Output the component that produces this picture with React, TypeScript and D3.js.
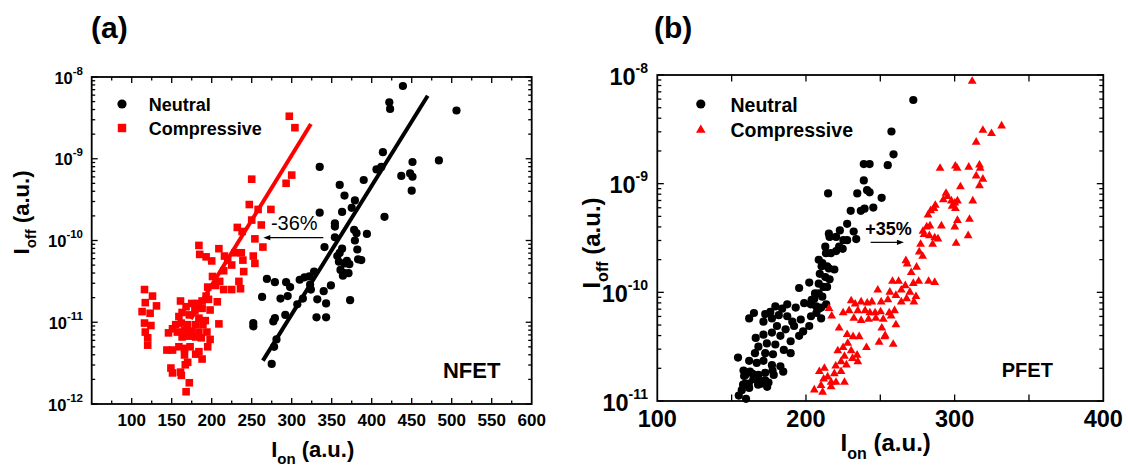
import React from 'react';
import * as d3 from 'd3';

const FONT = "'Liberation Sans', Arial, Helvetica, sans-serif";

// ---------- Panel (a) NFET : [Ion (a.u.), log10 Ioff (a.u.)] ----------
const nfetIonDomain = [50, 600];
const nfetIoffDomain = [1e-12, 1e-8];
const nfetIonTicks = [100, 150, 200, 250, 300, 350, 400, 450, 500, 550, 600];
const nfetIoffTickExps = [-12, -11, -10, -9, -8];

const nfetNeutral: [number, number][] = [
  [439, -8.11], [422, -8.31], [423, -8.39], [506, -8.41], [484, -9.02], [414, -8.92], [335, -9.10],
  [406, -9.13], [412, -9.10], [437, -9.21], [448, -9.18], [451, -9.22], [451, -9.04], [450, -9.39],
  [390, -9.26], [360, -9.32], [366, -9.45], [379, -9.51], [375, -9.60], [363, -9.65], [335, -9.66],
  [416, -9.71], [354, -9.79], [354, -9.83], [378, -9.87], [381, -9.91], [379, -10.0], [394, -9.92],
  [354, -9.96], [341, -10.08], [363, -10.10], [360, -10.15], [357, -10.19], [359, -10.26], [366, -10.28],
  [369, -10.25], [372, -10.29], [361, -10.36], [366, -10.40], [364, -10.43], [371, -10.40], [382, -10.11],
  [383, -10.23], [387, -10.24], [328, -10.38], [322, -10.44], [316, -10.45], [310, -10.48], [298, -10.57],
  [293, -10.51], [279, -10.51], [269, -10.47], [263, -10.69], [286, -10.71], [295, -10.68], [314, -10.71],
  [324, -10.60], [323, -10.54], [307, -10.78], [340, -10.62], [349, -10.55], [332, -10.72], [343, -10.77],
  [373, -10.73], [292, -10.91], [279, -10.95], [277, -10.99], [331, -10.94], [343, -10.94], [252, -11.01],
  [252, -11.05], [278, -11.30], [281, -11.21], [275, -11.51],
];

const nfetCompressive: [number, number][] = [
  [297, -8.48], [304, -8.62], [250, -9.25], [300, -9.20], [293, -9.30],
  [247, -9.56], [258, -9.62], [274, -9.62], [262, -9.81], [254, -9.98], [264, -10.08], [232, -9.84],
  [238, -9.89], [250, -9.75], [184, -10.06], [185, -10.17], [193, -10.20], [200, -10.25], [209, -10.10],
  [216, -10.19], [220, -10.24], [225, -10.30], [229, -10.15], [237, -10.15], [239, -10.24], [252, -10.19],
  [254, -10.28], [240, -10.38], [215, -10.37], [210, -10.50], [201, -10.44], [205, -10.55], [215, -10.60],
  [225, -10.60], [234, -10.50], [236, -10.59], [195, -10.57], [193, -10.68], [188, -10.74], [196, -10.72],
  [207, -10.75], [183, -10.77], [175, -10.77], [161, -10.74], [168, -10.81], [179, -10.86], [188, -10.83],
  [198, -10.85], [209, -11.02], [163, -10.88], [159, -10.93], [172, -10.91], [184, -10.95], [192, -10.98],
  [155, -11.03], [162, -11.01], [170, -11.03], [180, -11.03], [189, -11.03], [151, -11.08], [166, -11.10],
  [175, -11.11], [184, -11.12], [194, -11.12], [198, -11.21], [146, -11.13], [157, -11.12], [163, -11.18],
  [171, -11.17], [180, -11.18], [187, -11.19], [195, -11.30], [144, -11.34], [151, -11.34], [159, -11.30],
  [166, -11.32], [173, -11.30], [184, -11.36], [180, -11.39], [188, -11.45], [166, -11.40], [170, -11.49],
  [167, -11.52], [149, -11.56], [151, -11.62], [161, -11.61], [162, -11.65], [172, -11.74], [168, -11.85],
  [116, -10.60], [126, -10.68], [117, -10.76], [131, -10.80], [113, -10.87], [123, -10.89], [116, -11.01],
  [124, -11.04], [117, -11.12], [120, -11.19], [120, -11.28],
];

// linear fits drawn in the figure (end points)
const nfetCompressiveFit: [number, number][] = [[174, -10.96], [324, -8.575]];
const nfetNeutralFit: [number, number][] = [[264, -11.47], [470, -8.23]];

// ---------- Panel (b) PFET ----------
const pfetIonDomain = [100, 400];
const pfetIoffDomain = [1e-11, 1e-8];
const pfetIonTicks = [100, 200, 300, 400];
const pfetIoffTickExps = [-11, -10, -9, -8];

const pfetNeutral: [number, number][] = [
  [272.2, -8.23], [257.5, -8.52], [258.9, -8.73], [255.0, -8.83], [238.9, -8.82], [242.8, -8.82],
  [238.9, -8.97], [250.9, -9.13], [214.9, -9.09], [234.5, -9.09], [241.1, -9.06], [242.8, -9.08],
  [236.9, -9.25], [239.4, -9.23], [230.1, -9.25], [245.3, -9.22], [227.7, -9.37], [222.8, -9.43],
  [220.3, -9.49], [215.4, -9.46], [215.9, -9.49], [233.8, -9.51], [232.1, -9.44], [225.2, -9.52],
  [227.7, -9.52], [222.3, -9.58], [220.3, -9.62], [224.7, -9.60], [213.0, -9.58], [213.5, -9.64],
  [216.7, -9.64], [211.0, -9.73], [208.6, -9.70], [210.5, -9.76], [214.2, -9.76], [215.4, -9.78],
  [209.3, -9.83], [219.1, -9.79], [213.0, -9.86], [215.9, -9.88], [202.2, -9.91], [208.6, -9.92],
  [211.8, -9.95], [214.2, -9.95], [206.1, -10.01], [208.6, -10.01], [211.0, -10.04], [195.4, -9.96],
  [205.6, -10.06], [203.2, -10.11], [206.9, -10.13], [208.6, -10.15],
  [198.8, -10.10], [203.8, -10.07], [210.2, -10.14], [213.6, -10.11], [207.0, -10.19], [203.4, -10.22],
  [210.2, -10.24], [202.2, -10.31], [198.1, -10.36], [193.1, -10.14], [187.4, -10.11], [184.0, -10.15],
  [179.4, -10.13], [176.0, -10.18], [172.6, -10.20], [165.0, -10.19], [161.8, -10.24], [171.4, -10.27],
  [177.1, -10.24], [181.7, -10.21], [187.4, -10.22], [190.8, -10.27], [196.5, -10.25], [180.5, -10.31],
  [186.3, -10.34], [192.0, -10.31], [195.4, -10.40], [189.7, -10.45], [182.8, -10.40], [177.1, -10.37],
  [171.4, -10.39], [166.2, -10.42], [168.0, -10.50], [173.7, -10.47], [179.4, -10.48], [185.1, -10.53],
  [189.7, -10.56], [177.8, -10.57], [172.6, -10.56], [165.7, -10.56], [161.8, -10.63], [166.9, -10.65],
  [171.4, -10.63], [177.1, -10.67], [182.8, -10.68], [184.7, -10.73], [178.3, -10.76], [172.6, -10.74],
  [168.0, -10.76], [162.3, -10.73], [158.4, -10.77], [154.3, -10.60], [164.6, -10.80], [170.3, -10.82],
  [174.8, -10.83], [157.7, -10.85], [161.8, -10.88],
  [158.0, -10.72], [159.2, -10.76], [164.1, -10.75], [166.5, -10.79], [170.2, -10.84], [172.6, -10.81],
  [173.9, -10.87], [161.6, -10.84], [156.8, -10.90], [159.2, -10.84], [154.8, -10.95], [159.7, -10.98],
  [167.8, -10.85], [177.5, -10.72],
];

const pfetCompressive: [number, number][] = [
  [311.8, -8.05], [319.0, -8.50], [324.8, -8.53], [331.6, -8.46], [314.5, -8.61], [290.2, -8.85],
  [300.5, -8.83], [301.7, -8.85], [309.5, -8.84], [316.7, -8.82], [317.2, -8.85], [314.5, -8.92],
  [319.0, -8.95], [316.7, -9.01], [303.9, -9.02], [294.2, -9.08], [295.1, -9.11], [292.4, -9.14],
  [297.8, -9.15], [300.1, -9.17], [301.9, -9.15], [298.3, -9.20], [300.5, -9.22], [287.0, -9.19],
  [286.1, -9.22], [283.9, -9.24], [282.1, -9.28], [312.2, -9.15], [291.1, -9.38], [283.4, -9.38],
  [281.2, -9.39], [278.7, -9.43], [279.4, -9.46], [283.0, -9.47], [286.6, -9.49], [288.8, -9.50],
  [285.2, -9.55], [277.1, -9.55], [301.9, -9.33], [300.1, -9.39], [310.0, -9.32], [309.1, -9.47],
  [301.0, -9.54], [276.2, -9.62], [278.5, -9.66], [267.2, -9.70], [268.1, -9.73], [270.8, -9.81],
  [274.4, -9.76], [258.2, -9.89], [262.3, -9.89], [275.8, -9.89], [282.5, -9.89], [286.6, -9.90],
  [272.2, -9.91], [266.8, -9.93], [264.1, -9.97], [248.3, -9.97], [256.4, -9.99], [260.5, -10.02],
  [255.1, -10.06], [250.6, -10.08], [269.9, -9.99], [267.7, -10.05], [274.0, -10.03], [272.6, -10.08],
  [230.4, -10.07], [233.1, -10.10], [237.1, -10.08], [241.2, -10.09], [244.3, -10.08], [225.0, -10.18],
  [229.0, -10.16], [234.9, -10.16], [239.8, -10.16], [243.0, -10.18], [246.5, -10.18], [250.2, -10.17],
  [256.0, -10.18], [259.6, -10.16], [264.1, -10.08], [215.5, -10.14], [217.3, -10.21], [232.2, -10.23],
  [237.1, -10.25], [242.1, -10.24], [247.0, -10.23], [252.0, -10.24], [257.3, -10.21], [260.5, -10.29],
  [222.3, -10.32], [251.0, -10.32], [253.3, -10.39], [249.2, -10.45], [258.7, -10.47], [252.9, -10.40],
  [227.7, -10.38], [231.7, -10.40], [235.8, -10.40], [240.7, -10.50], [228.1, -10.46], [225.0, -10.50],
  [230.4, -10.53], [234.4, -10.57], [221.4, -10.53], [225.9, -10.58], [231.3, -10.60], [234.9, -10.63],
  [223.6, -10.63], [227.2, -10.66], [220.0, -10.67], [223.6, -10.72], [219.1, -10.74], [212.4, -10.69],
  [209.0, -10.72], [214.6, -10.77], [211.9, -10.79], [216.9, -10.82], [220.2, -10.82], [225.9, -10.82],
  [210.1, -10.85], [205.6, -10.89], [211.2, -10.91], [216.9, -10.86],
];

// annotation anchors, in data units [Ion, log10 Ioff]
const nfetShiftText: [number, number] = [274, -9.872];
const nfetShiftArrow: [number, number][] = [[339.5, -9.966], [264.5, -9.966]];
const nfetLabelPos: [number, number] = [489, -11.682];
const pfetShiftText: [number, number] = [239.8, -9.472];
const pfetShiftArrow: [number, number][] = [[243.5, -9.54], [265.9, -9.54]];
const pfetLabelPos: [number, number] = [331.7, -10.779];

const lg = (l: number) => Math.pow(10, l);

function minorDecadeTicks(lo: number, hi: number) {
  const out: number[] = [];
  for (let e = lo; e < hi; e++) for (let k = 2; k <= 9; k++) out.push(k * Math.pow(10, e));
  return out;
}

function Frame({ x, y, xMajor, xMinor, exps, majLen, minLen, xMinLen, color = '#000' }: any) {
  const [l, r] = x.range();
  const [b, t] = y.range();
  const minors = minorDecadeTicks(exps[0], exps[exps.length - 1]);
  const els: any[] = [];
  exps.forEach((e: number, i: number) => {
    const yy = y(lg(e));
    els.push(<line key={'yl' + i} x1={l} x2={l + majLen} y1={yy} y2={yy} />);
    els.push(<line key={'yr' + i} x1={r} x2={r - majLen} y1={yy} y2={yy} />);
  });
  minors.forEach((v, i) => {
    const yy = y(v);
    els.push(<line key={'myl' + i} x1={l} x2={l + minLen} y1={yy} y2={yy} />);
    els.push(<line key={'myr' + i} x1={r} x2={r - minLen} y1={yy} y2={yy} />);
  });
  xMajor.forEach((v: number, i: number) => {
    const xx = x(v);
    els.push(<line key={'xb' + i} x1={xx} x2={xx} y1={b} y2={b - majLen} />);
    els.push(<line key={'xt' + i} x1={xx} x2={xx} y1={t} y2={t + majLen} />);
  });
  xMinor.forEach((v: number, i: number) => {
    const xx = x(v);
    els.push(<line key={'mxb' + i} x1={xx} x2={xx} y1={b} y2={b - xMinLen} />);
    els.push(<line key={'mxt' + i} x1={xx} x2={xx} y1={t} y2={t + xMinLen} />);
  });
  return (
    <g stroke={color} strokeWidth={1.3}>
      {els}
      <rect x={l} y={t} width={r - l} height={b - t} fill="none" strokeWidth={1.8} />
    </g>
  );
}

function triPath(cx: number, cy: number, w: number, h: number) {
  return `M${cx},${cy - h * 0.55}L${cx + w / 2},${cy + h * 0.45}L${cx - w / 2},${cy + h * 0.45}Z`;
}

export default function App() {
  // ---- scales ----
  const xa = d3.scaleLinear().domain(nfetIonDomain).range([91.7, 531.7]);
  const ya = d3.scaleLog().domain(nfetIoffDomain).range([404, 77]);
  const xb = d3.scaleLinear().domain(pfetIonDomain).range([657.3, 1103.3]);
  const yb = d3.scaleLog().domain(pfetIoffDomain).range([401, 75]);

  const aXMinor = d3.range(75, 600, 50);
  const aXMajor = nfetIonTicks.filter((v) => v < 600);
  const bXTicks = d3.range(150, 400, 50);

  const line = (xs: any, ys: any) =>
    d3.line<[number, number]>().x((d) => xs(d[0])).y((d) => ys(lg(d[1])));

  const arrowHead = (x0: number, y0: number, dir: number) =>
    `M${x0},${y0}L${x0 - dir * 7},${y0 - 2.6}L${x0 - dir * 7},${y0 + 2.6}Z`;

  return (
    <div style={{ position: 'absolute', left: 0, top: 0, width: 1128, height: 471, background: '#fff' }}>
      <svg width={1128} height={471} style={{ display: 'block' }} fontFamily={FONT}>
        <rect width={1128} height={471} fill="#fff" />

        {/* ================= Panel (a) ================= */}
        <text x={91} y={38} fontSize={30} fontWeight="bold">(a)</text>

        {nfetCompressive.map((d, i) => (
          <rect key={'ac' + i} x={xa(d[0]) - 3.8} y={ya(lg(d[1])) - 3.8} width={7.6} height={7.6} fill="#ff0000" />
        ))}
        {nfetNeutral.map((d, i) => (
          <circle key={'an' + i} cx={xa(d[0])} cy={ya(lg(d[1]))} r={4.1} fill="#000" />
        ))}
        <path d={line(xa, ya)(nfetCompressiveFit) || ''} stroke="#ff0000" strokeWidth={4} fill="none" />
        <path d={line(xa, ya)(nfetNeutralFit) || ''} stroke="#000" strokeWidth={4} fill="none" />

        <Frame x={xa} y={ya} xMajor={aXMajor} xMinor={aXMinor} exps={nfetIoffTickExps} majLen={6} minLen={3.5} xMinLen={3.5} />

        {/* y tick labels */}
        {nfetIoffTickExps.map((e) => (
          <text key={'aty' + e} x={83} y={ya(lg(e)) + 6.5} textAnchor="end" fontWeight="bold" fontSize={16.5}>
            10<tspan fontSize={11.5} dy={-9}>{String(e)}</tspan>
          </text>
        ))}
        {/* x tick labels */}
        {nfetIonTicks.map((v) => (
          <text key={'atx' + v} x={xa(v)} y={426} textAnchor="middle" fontWeight="bold" fontSize={17}>{v}</text>
        ))}
        {/* titles */}
        <text x={312.7} y={457} textAnchor="middle" fontWeight="bold" fontSize={22}>
          I<tspan fontSize={15} dy={7}>on</tspan><tspan dy={-7}>{'\u00A0(a.u.)'}</tspan>
        </text>
        <text transform="translate(29,212.5) rotate(-90)" textAnchor="middle" fontWeight="bold" fontSize={22}>
          I<tspan fontSize={15} dy={7}>off</tspan><tspan dy={-7}>{'\u00A0(a.u.)'}</tspan>
        </text>

        {/* legend */}
        <circle cx={122} cy={104} r={4.6} fill="#000" />
        <text x={148.7} y={110.5} fontWeight="bold" fontSize={18}>Neutral</text>
        <rect x={122 - 4.2} y={128 - 4.2} width={8.4} height={8.4} fill="#ff0000" />
        <text x={148.7} y={134.5} fontWeight="bold" fontSize={18}>Compressive</text>

        {/* annotations */}
        <text x={xa(nfetShiftText[0])} y={ya(lg(nfetShiftText[1]))} fontSize={20}>-36%</text>
        <line x1={xa(nfetShiftArrow[0][0])} y1={ya(lg(nfetShiftArrow[0][1]))} x2={xa(nfetShiftArrow[1][0]) + 5} y2={ya(lg(nfetShiftArrow[1][1]))} stroke="#000" strokeWidth={1.2} />
        <path d={arrowHead(xa(nfetShiftArrow[1][0]), ya(lg(nfetShiftArrow[1][1])), -1)} fill="#000" />
        <text x={xa(nfetLabelPos[0])} y={ya(lg(nfetLabelPos[1]))} fontWeight="bold" fontSize={22}>NFET</text>

        {/* ================= Panel (b) ================= */}
        <text x={654} y={38} fontSize={30} fontWeight="bold">(b)</text>

        {pfetNeutral.map((d, i) => (
          <circle key={'bn' + i} cx={xb(d[0])} cy={yb(lg(d[1]))} r={4.1} fill="#000" />
        ))}
        {pfetCompressive.map((d, i) => (
          <path key={'bc' + i} d={triPath(xb(d[0]), yb(lg(d[1])), 8.8, 7.6)} fill="#ff0000" />
        ))}

        <Frame x={xb} y={yb} xMajor={bXTicks} xMinor={[]} exps={pfetIoffTickExps} majLen={6.5} minLen={4} xMinLen={4} />

        {pfetIoffTickExps.map((e) => (
          <text key={'bty' + e} x={648} y={yb(lg(e)) + 9.5} textAnchor="end" fontWeight="bold" fontSize={23.5}>
            10<tspan fontSize={14} dy={-12}>{String(e)}</tspan>
          </text>
        ))}
        {pfetIonTicks.map((v) => (
          <text key={'btx' + v} x={xb(v)} y={427} textAnchor="middle" fontWeight="bold" fontSize={23.5}>{v}</text>
        ))}
        <text x={885.7} y={451} textAnchor="middle" fontWeight="bold" fontSize={24}>
          I<tspan fontSize={16} dy={8}>on</tspan><tspan dy={-8}>{'\u00A0(a.u.)'}</tspan>
        </text>
        <text transform="translate(600,243) rotate(-90)" textAnchor="middle" fontWeight="bold" fontSize={24}>
          I<tspan fontSize={16} dy={8}>off</tspan><tspan dy={-8}>{'\u00A0(a.u.)'}</tspan>
        </text>

        <circle cx={700.8} cy={104} r={4.6} fill="#000" />
        <text x={730.5} y={112} fontWeight="bold" fontSize={19.5}>Neutral</text>
        <path d={triPath(700.8, 129, 9.6, 8.2)} fill="#ff0000" />
        <text x={730.5} y={136.5} fontWeight="bold" fontSize={19.5}>Compressive</text>

        <text x={xb(pfetShiftText[0])} y={yb(lg(pfetShiftText[1]))} fontWeight="bold" fontSize={18}>+35%</text>
        <line x1={xb(pfetShiftArrow[0][0])} y1={yb(lg(pfetShiftArrow[0][1]))} x2={xb(pfetShiftArrow[1][0]) - 5} y2={yb(lg(pfetShiftArrow[1][1]))} stroke="#000" strokeWidth={1.2} />
        <path d={arrowHead(xb(pfetShiftArrow[1][0]), yb(lg(pfetShiftArrow[1][1])), 1)} fill="#000" />
        <text x={xb(pfetLabelPos[0])} y={yb(lg(pfetLabelPos[1]))} fontWeight="bold" fontSize={20}>PFET</text>
      </svg>
    </div>
  );
}
